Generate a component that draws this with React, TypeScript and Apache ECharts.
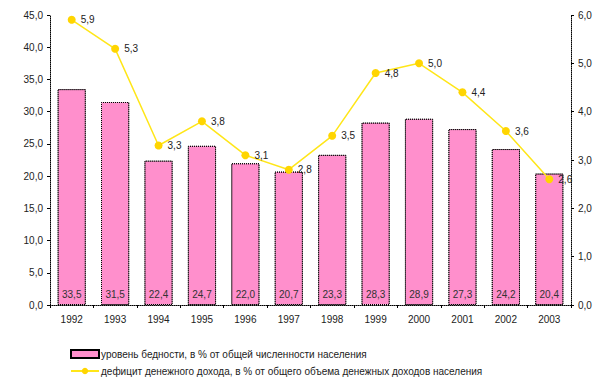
import React, { useEffect, useRef } from "react";
import * as echarts from "echarts";

const years = ["1992", "1993", "1994", "1995", "1996", "1997", "1998", "1999", "2000", "2001", "2002", "2003"];
const povertyLevel = [33.5, 31.5, 22.4, 24.7, 22.0, 20.7, 23.3, 28.3, 28.9, 27.3, 24.2, 20.4];
const incomeDeficit = [5.9, 5.3, 3.3, 3.8, 3.1, 2.8, 3.5, 4.8, 5.0, 4.4, 3.6, 2.6];
const barName = "уровень бедности, в % от общей численности населения";
const lineName = "дефицит денежного дохода, в % от общего объема денежных доходов населения";

const fmt = (v: number) => v.toFixed(1).replace(".", ",");
const FONT = "Liberation Sans, Arial, sans-serif";

export default function App() {
  const ref = useRef<HTMLDivElement>(null);
  useEffect(() => {
    if (!ref.current) return;
    const chart = echarts.init(ref.current, null, { renderer: "svg" });
    chart.setOption({
      animation: false,
      backgroundColor: "#ffffff",
      textStyle: { fontFamily: FONT },
      grid: { left: 50, right: 40, top: 15, bottom: 77 },
      legend: {
        orient: "vertical",
        left: 65,
        top: 344,
        itemWidth: 28,
        itemHeight: 8,
        itemGap: 7,
        textStyle: { fontSize: 10, color: "#222", fontFamily: FONT, padding: [0, 0, 0, -3] },
        data: [
          { name: barName, icon: "rect" },
          { name: lineName },
        ],
      },
      xAxis: {
        type: "category",
        data: years,
        axisLine: { lineStyle: { color: "#000", type: "dotted", width: 1 } },
        axisTick: { show: true, length: 3, lineStyle: { color: "#000" } },
        axisLabel: { fontSize: 10, color: "#222", margin: 9, fontFamily: FONT },
      },
      yAxis: [
        {
          type: "value",
          min: 0,
          max: 45,
          interval: 5,
          splitLine: { show: false },
          axisLine: { show: true, lineStyle: { color: "#000", type: "dotted", width: 1 } },
          axisTick: { show: true, length: 3, lineStyle: { color: "#000" } },
          axisLabel: { fontSize: 10, color: "#222", margin: 7, formatter: (v: number) => fmt(v), fontFamily: FONT },
        },
        {
          type: "value",
          min: 0,
          max: 6,
          interval: 1,
          splitLine: { show: false },
          axisLine: { show: true, lineStyle: { color: "#000", type: "dotted", width: 1 } },
          axisTick: { show: true, length: 3, lineStyle: { color: "#000" } },
          axisLabel: { fontSize: 10, color: "#222", margin: 7, formatter: (v: number) => fmt(v), fontFamily: FONT },
        },
      ],
      series: [
        {
          name: barName,
          type: "bar",
          data: povertyLevel,
          yAxisIndex: 0,
          barCategoryGap: "35%",
          itemStyle: {
            color: "#ff8fcc",
            borderColor: "#000",
            borderWidth: 1,
            borderType: "dotted",
            decal: {
              symbol: "rect",
              symbolSize: 0.12,
              color: "rgba(230,60,150,0.6)",
              dashArrayX: [[1, 5]],
              dashArrayY: [1, 5],
              rotation: 0,
            },
          },
          label: {
            show: true,
            position: "insideBottom",
            distance: 6,
            fontSize: 10,
            color: "#333",
            fontFamily: FONT,
            formatter: (p: any) => fmt(p.value),
          },
        },
        {
          name: lineName,
          type: "line",
          data: incomeDeficit,
          yAxisIndex: 1,
          symbol: "circle",
          symbolSize: 8,
          lineStyle: { color: "#ffe619", width: 1.5 },
          itemStyle: { color: "#ffd500" },
          label: {
            show: true,
            position: "right",
            distance: 5,
            fontSize: 10,
            color: "#222",
            fontFamily: FONT,
            formatter: (p: any) => fmt(p.value),
          },
        },
      ],
    });
    return () => chart.dispose();
  }, []);
  return <div ref={ref} style={{ width: 611, height: 382, position: "absolute", left: 0, top: 0 }} />;
}
